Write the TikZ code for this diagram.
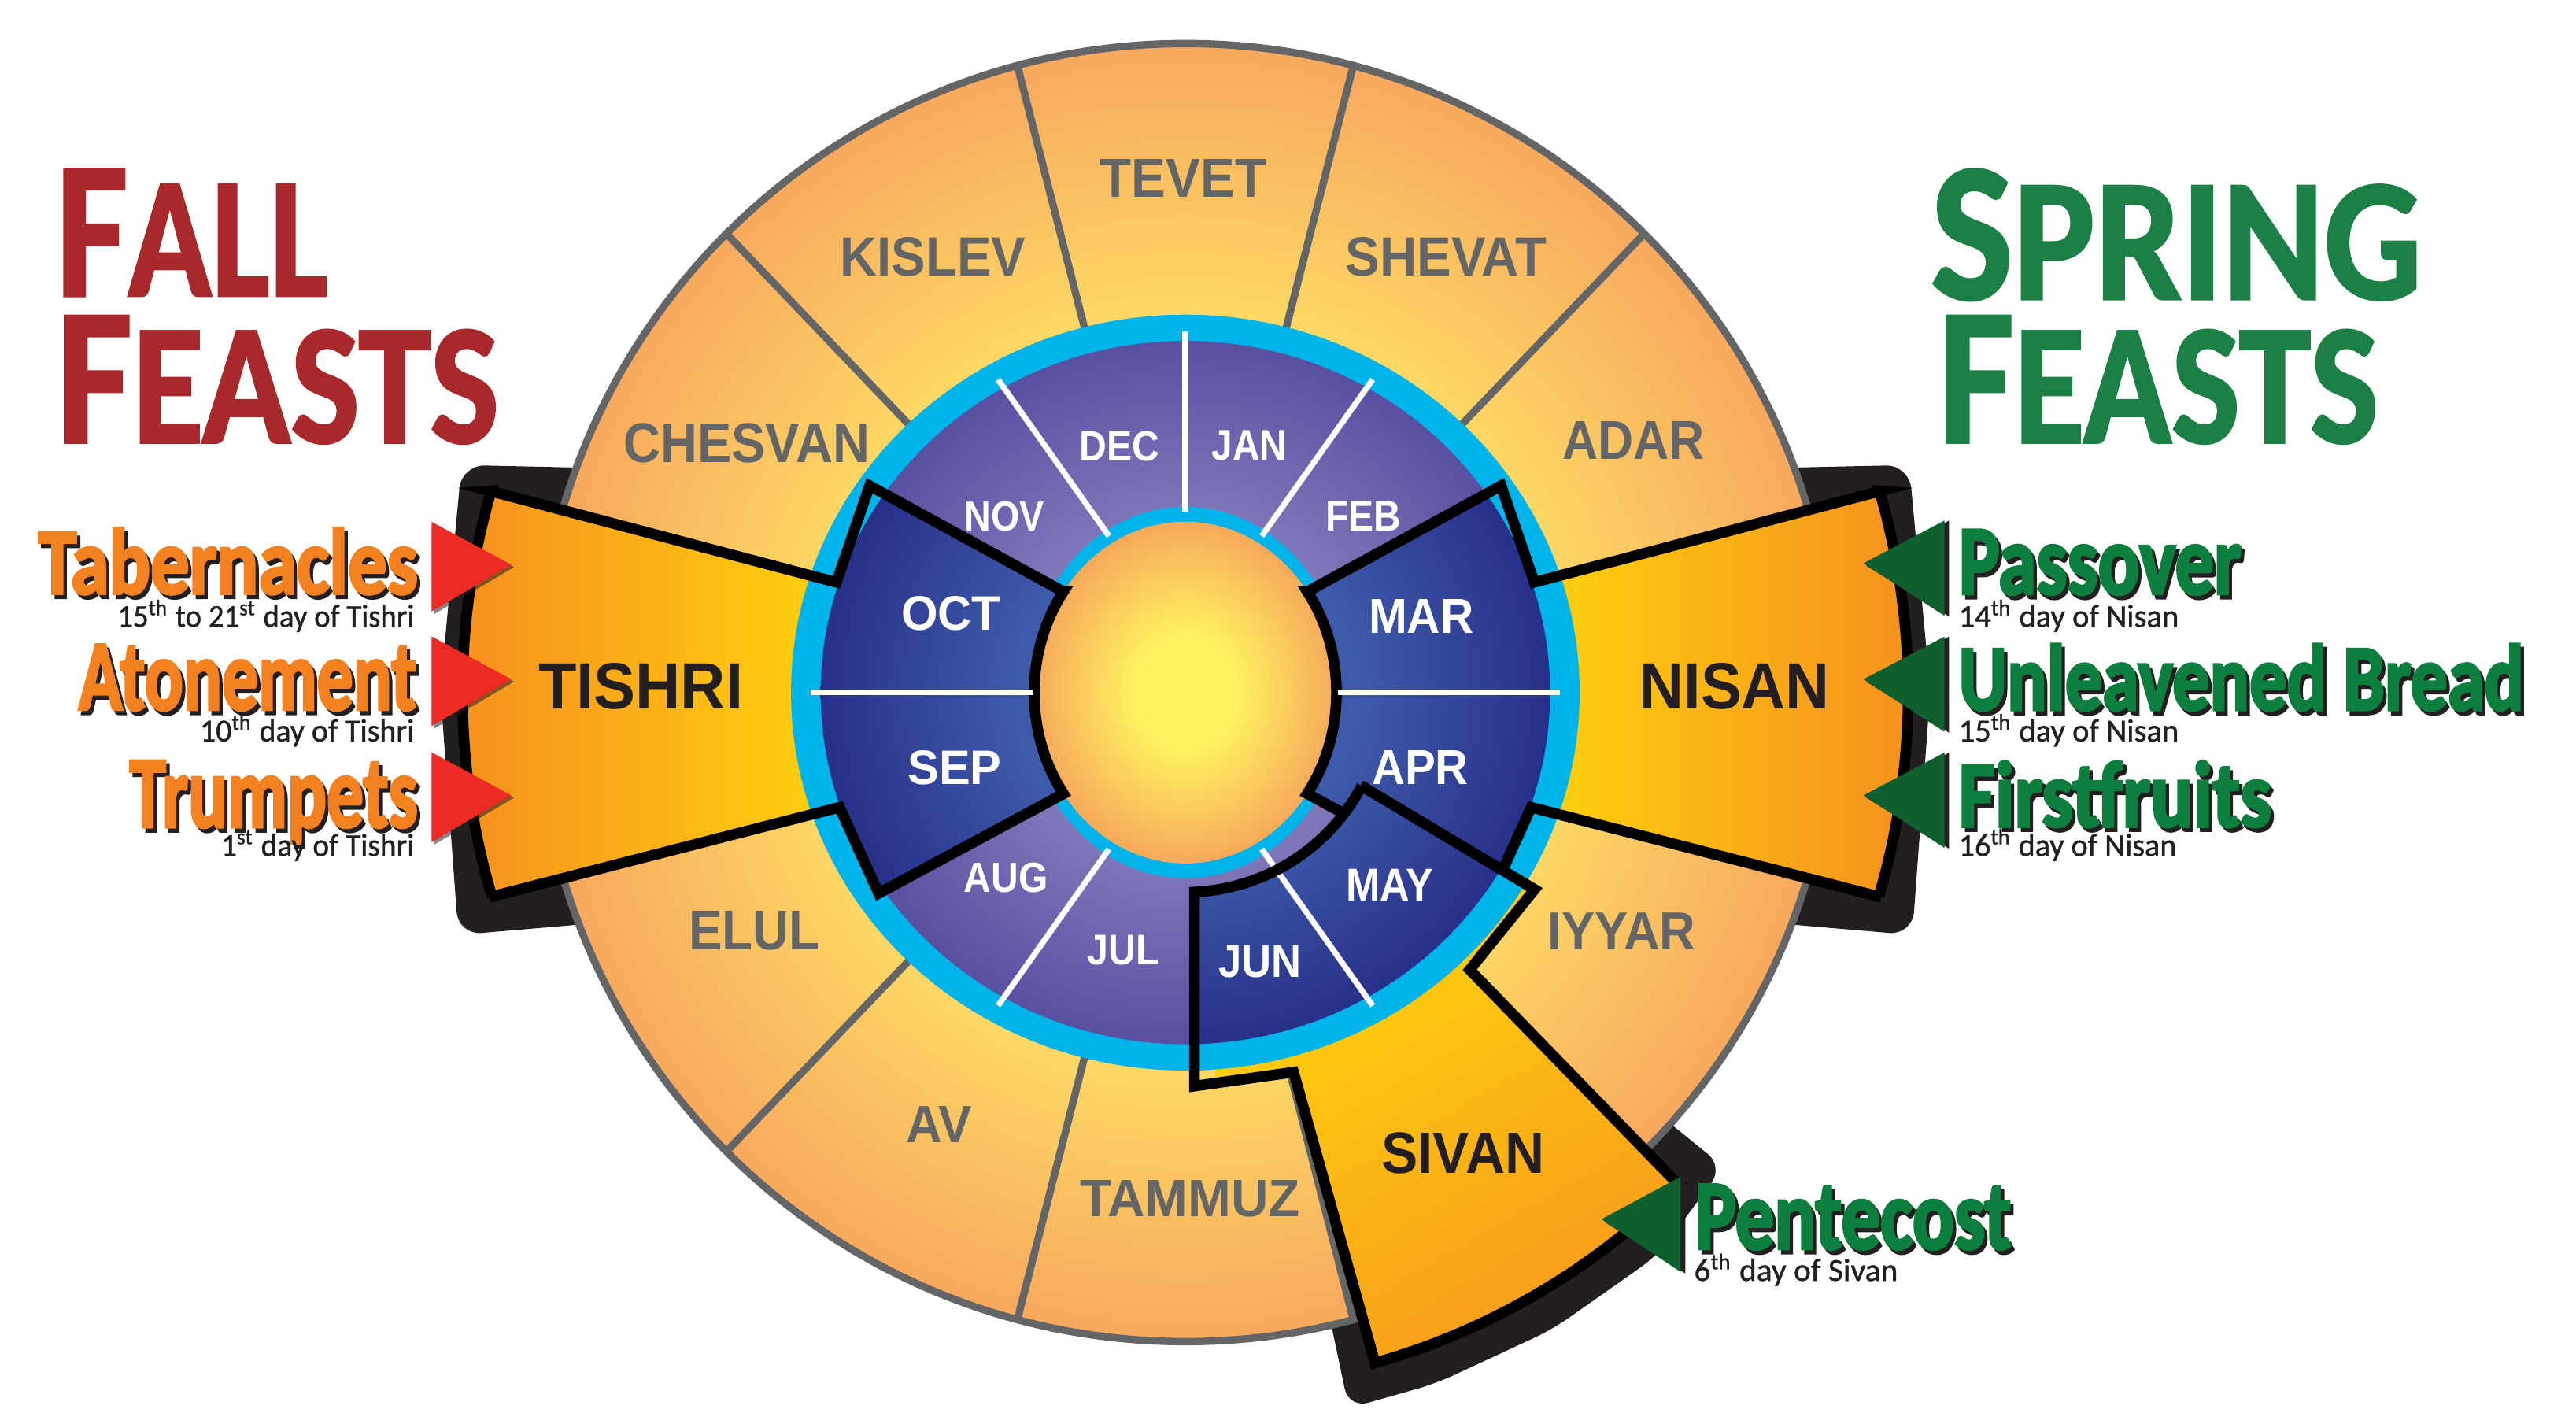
\documentclass[tikz,border=0pt]{standalone}
\usepackage{fontspec}
\setmainfont{Liberation Sans}
\newfontfamily\helvfont{Liberation Sans}
\newfontfamily\heavyfont{Carlito}[BoldFeatures={FakeBold=3}]
\newfontfamily\titlefont{Carlito}[BoldFeatures={FakeBold=1.5}]
\newfontfamily\subfont{Carlito}[FakeBold=1]
\usetikzlibrary{calc}

\definecolor{titlered}{HTML}{A8282B}
\definecolor{titlegreen}{HTML}{1C7F46}
\definecolor{featorange}{HTML}{F48120}
\definecolor{featgreen}{HTML}{0C7F3E}
\definecolor{trired}{HTML}{EE2A24}
\definecolor{trigreen}{HTML}{0F5F2F}
\definecolor{wheelgray}{HTML}{646567}
\definecolor{ringyel}{HTML}{FDD965}
\definecolor{ringorg}{HTML}{F7A85E}
\definecolor{cyanband}{HTML}{00B4EB}
\definecolor{purlight}{HTML}{A39ED0}
\definecolor{purdark}{HTML}{5A50A2}
\definecolor{navyin}{HTML}{3E5AAA}
\definecolor{navyout}{HTML}{283089}
\definecolor{sunin}{HTML}{FFF460}
\definecolor{sunout}{HTML}{F6A95B}
\definecolor{hlyel}{HTML}{FFD40D}
\definecolor{hlorg}{HTML}{F6901F}
\definecolor{inkdark}{HTML}{231F20}

\pgfdeclareradialshading{ringshade}{\pgfpointorigin}{color(0bp)=(ringyel); color(14.5bp)=(ringyel); color(25bp)=(ringorg); color(50bp)=(ringorg)}
\pgfdeclareradialshading{purshade}{\pgfpointorigin}{color(0bp)=(purlight); color(25bp)=(purdark); color(50bp)=(purdark)}
\pgfdeclareradialshading{navyshade}{\pgfpointorigin}{color(0bp)=(navyin); color(12bp)=(navyin); color(25bp)=(navyout); color(50bp)=(navyout)}
\pgfdeclareradialshading{sunshade}{\pgfpointorigin}{color(0bp)=(sunin); color(8bp)=(sunin); color(25bp)=(sunout); color(50bp)=(sunout)}

\newcommand{\fitbox}[3]{\resizebox{#1pt}{#2pt}{#3}}
\newcommand{\sups}[1]{\smash{\textsuperscript{#1}}}
% heavy feast name with a dark drop shadow, in one box
\newcommand{\shadowed}[4]{\rlap{\hspace{2pt}\raisebox{-2.5pt}{\textcolor{inkdark}{\fitbox{#1}{#2}{#4}}}}\textcolor{#3}{\fitbox{#1}{#2}{#4}}}

\tikzset{
  wheellbl/.style={inner sep=0pt, text=wheelgray, font=\helvfont\bfseries},
  hllbl/.style={inner sep=0pt, text=inkdark, font=\helvfont\bfseries},
  monthlbl/.style={inner sep=0pt, text=white, font=\helvfont\bfseries},
  feastlbl/.style={inner sep=0pt, font=\heavyfont\bfseries},
  subtext/.style={inner sep=0pt, text=inkdark, font=\subfont},
  titlefall/.style={inner sep=0pt, text=titlered, font=\titlefont\bfseries},
  titlespring/.style={inner sep=0pt, text=titlegreen, font=\titlefont\bfseries},
  hloutline/.style={draw=black, line width=6.5pt, line join=miter},
  grayline/.style={wheelgray, line width=4.5pt},
  whiteline/.style={white, line width=3.5pt},
}

\begin{document}
\begin{tikzpicture}[x=1pt,y=-1pt]
\useasboundingbox (0,0) rectangle (1568,866.6);
\coordinate (C) at (721.5,421.5);

% ---------- dark shadows behind highlighted months
\fill[inkdark, rounded corners=14pt] (372,285) -- (281,283) -- (268,420) -- (279,569) -- (372,561) -- cycle;
\fill[inkdark, rounded corners=14pt] (1071,285) -- (1162,283) -- (1175,420) -- (1164,569) -- (1071,561) -- cycle;
\fill[inkdark, rounded corners=12pt] (975,650) -- (1049,710) -- (1009,764) -- (945,809) -- (874,842) -- (821,857) -- (809,800) -- (790,690) -- cycle;

% ---------- outer disk
\shade[shading=ringshade] (C) circle (395);
\draw[wheelgray, line width=4.5pt] (C) circle (395);
\foreach \a in {15,45,...,345}
  \draw[grayline] ($(C)+(\a:222 and 214)$) -- ($(C)+(\a:395)$);

% ---------- inner rings
\fill[cyanband] (C) ellipse (240 and 230);
\shade[shading=purshade] (C) ellipse (222 and 214);
\fill[cyanband] (C) ellipse (98 and 113);
\shade[shading=sunshade] (C) ellipse (92 and 104);

% ---------- highlighted paths
\path[save path=\tishriP] (298.3,298.8) -- (509.1,354.4) -- (529.3,295.6) -- (646.7,359.8)
  -- plot[domain=216.4:143.7, samples=30] ({721.5+92*cos(\x)},{421.5+104*sin(\x)})
  -- (534.8,543.7) -- (511,491.3) -- (298.3,545.9)
  -- plot[domain=163.6:196.2, samples=30] ({721.5+440*cos(\x)},{421.5+440*sin(\x)}) -- cycle;
\path[save path=\nisanP] (1144.7,298.8) -- (933.9,354.4) -- (913.7,295.6) -- (796.3,359.8)
  -- plot[domain=-36.4:36.3, samples=30] ({721.5+92*cos(\x)},{421.5+104*sin(\x)})
  -- (908.2,543.7) -- (932,491.3) -- (1144.7,545.9)
  -- plot[domain=16.4:-16.2, samples=30] ({721.5+440*cos(\x)},{421.5+440*sin(\x)}) -- cycle;
\path[save path=\sivanP] (828.2,478) -- (934.1,541.3) -- (894.6,590.2) -- (1021,720.3)
  -- plot[domain=44.9:74.2, samples=30] ({721.5+424*cos(\x)},{421.5+424*sin(\x)})
  -- (787.4,652.5) -- (727,661) -- (727,544)
  -- plot[domain=87.4:27.9, samples=30] ({721.5+121.5*cos(\x)},{421.5+121.5*sin(\x)}) -- cycle;

% TISHRI
\begin{scope}
  \clip[use path=\tishriP];
  \shade[left color=hlorg, right color=hlyel] (280,280) rectangle (515,570);
  \fill[cyanband] (C) ellipse (240 and 230);
  \shade[shading=navyshade] (C) ellipse (222 and 214);
\end{scope}
% NISAN
\begin{scope}
  \clip[use path=\nisanP];
  \shade[left color=hlyel, right color=hlorg] (928,280) rectangle (1165,570);
  \fill[cyanband] (C) ellipse (240 and 230);
  \shade[shading=navyshade] (C) ellipse (222 and 214);
\end{scope}
\draw[hloutline, use path=\tishriP];
\draw[hloutline, use path=\nisanP];
% SIVAN
\begin{scope}
  \clip[use path=\sivanP];
  \shade[top color=hlyel, bottom color=hlorg, shading angle=30] (740,530) rectangle (1070,870);
  \fill[cyanband] (C) ellipse (240 and 230);
  \shade[shading=navyshade] (C) ellipse (222 and 214);
\end{scope}

% white month dividers
\foreach \a in {0,60,120,180,240,270,300}
  \draw[whiteline] ($(C)+(\a:93 and 110)$) -- ($(C)+(\a:228 and 220)$);

\draw[hloutline, use path=\sivanP];

% ---------- Hebrew month labels
\node[wheellbl] (tevet)   at (720.3,108.6) {\fitbox{101.2}{23}{TEVET}};
\node[wheellbl] (kislev)  at (567.9,156.5) {\fitbox{112.8}{23.5}{KISLEV}};
\node[wheellbl] (shevat)  at (880.2,156.5) {\fitbox{122.4}{23.5}{SHEVAT}};
\node[wheellbl] (chesvan) at (454.5,269.5) {\fitbox{149.9}{23.8}{CHESVAN}};
\node[wheellbl] (adar)    at (994.3,268)   {\fitbox{86.6}{23}{ADAR}};
\node[wheellbl] (elul)    at (459.2,566.2) {\fitbox{79.7}{23.5}{ELUL}};
\node[wheellbl] (iyyar)   at (987.2,566.7) {\fitbox{89.8}{22.4}{IYYAR}};
\node[wheellbl] (av)      at (571.4,684.6) {\fitbox{39.9}{22}{AV}};
\node[wheellbl] (tammuz)  at (724.4,729.5) {\fitbox{134.2}{22}{TAMMUZ}};
\node[hllbl] (tishri) at (390,417.5)   {\fitbox{124.6}{27.8}{TISHRI}};
\node[hllbl] (nisan)  at (1056,417.5)  {\fitbox{115.5}{27.8}{NISAN}};
\node[hllbl] (sivan)  at (890.5,701.6) {\fitbox{99}{24.8}{SIVAN}};

% ---------- Gregorian month labels
\node[monthlbl] (nov) at (611.4,314.4) {\fitbox{48.4}{17.9}{NOV}};
\node[monthlbl] (dec) at (681.4,271.5) {\fitbox{48.7}{18}{DEC}};
\node[monthlbl] (jan) at (760.5,271)   {\fitbox{45.8}{18}{JAN}};
\node[monthlbl] (feb) at (829.9,314.4) {\fitbox{46}{17.9}{FEB}};
\node[monthlbl] (oct) at (578.8,373.5) {\fitbox{60.5}{20.6}{OCT}};
\node[monthlbl] (mar) at (865.1,374.9) {\fitbox{63.9}{20.6}{MAR}};
\node[monthlbl] (sep) at (581.1,467)   {\fitbox{57.1}{20.6}{SEP}};
\node[monthlbl] (apr) at (864.5,467)   {\fitbox{58.8}{20.6}{APR}};
\node[monthlbl] (aug) at (612.4,534.4) {\fitbox{51.1}{17.9}{AUG}};
\node[monthlbl] (jul) at (683.7,578.4) {\fitbox{43.7}{17.9}{JUL}};
\node[monthlbl] (jun) at (767,585.3)   {\fitbox{50.4}{19.3}{JUN}};
\node[monthlbl] (may) at (846,538.5)   {\fitbox{53.1}{19.3}{MAY}};

% ---------- pointer triangles
\foreach \t in {343.7,413.4,484}{
  \fill[inkdark, opacity=0.55] (264.2,\t-24.6) -- (264.2,\t+30.1) -- (312.9,\t+1.5) -- cycle;
  \fill[trired] (262.7,\t-26.1) -- (262.7,\t+28.5) -- (311.2,\t) -- cycle;
}
\foreach \t in {342.8,413.4,484}{
  \fill[inkdark] (1186.4,\t-26) -- (1186.4,\t+32.5) -- (1136,\t+1.5) -- cycle;
  \fill[trigreen] (1183.6,\t-26) -- (1183.6,\t+32) -- (1134.3,\t) -- cycle;
}
\fill[inkdark] (1025.8,716.1) -- (1025.8,775) -- (976.5,743.5) -- cycle;
\fill[trigreen] (1023,716.1) -- (1023,774.1) -- (974.8,742) -- cycle;

% ---------- titles
\node[titlefall, anchor=base west] (fall1) at (34,180)
  {\fitbox{165.4}{77}{\fontsize{100}{100}\selectfont F\fontsize{88}{88}\selectfont ALL}};
\node[titlefall, anchor=base west] (fall2) at (34,269.3)
  {\fitbox{269.5}{77}{\fontsize{100}{100}\selectfont F\fontsize{88}{88}\selectfont EASTS}};
\node[titlespring, anchor=base west] (spring1) at (1175,182)
  {\fitbox{299}{79}{\fontsize{100}{100}\selectfont S\fontsize{88}{88}\selectfont PRING}};
\node[titlespring, anchor=base west] (spring2) at (1179.6,269.3)
  {\fitbox{268}{77}{\fontsize{100}{100}\selectfont F\fontsize{88}{88}\selectfont EASTS}};

% ---------- fall feasts
\node[feastlbl, anchor=base east] (tab) at (254.5,361.3) {\shadowed{231}{40}{featorange}{Tabernacles}};
\node[subtext, anchor=base east] (tabD) at (252.4,381.5) {\fitbox{180.7}{13.5}{15\sups{th} to 21\sups{st} day of Tishri}};
\node[feastlbl, anchor=base east] (ato) at (253.5,431.9) {\shadowed{205.4}{39.5}{featorange}{Atonement}};
\node[subtext, anchor=base east] (atoD) at (252.4,451.2) {\fitbox{130.5}{13.5}{10\sups{th} day of Tishri}};
\node[feastlbl, anchor=base east] (tru) at (254.5,503.3) {\shadowed{175.4}{40.3}{featorange}{Trumpets}};
\node[subtext, anchor=base east] (truD) at (252.4,520.9) {\fitbox{117.6}{13.5}{1\sups{st} day of Tishri}};

% ---------- spring feasts
\node[feastlbl, anchor=base west] (pas) at (1192,361.5) {\shadowed{172}{39}{featgreen}{Passover}};
\node[subtext, anchor=base west] (pasD) at (1192,381.5) {\fitbox{134}{13.5}{14\sups{th} day of Nisan}};
\node[feastlbl, anchor=base west] (unl) at (1192,432) {\shadowed{344}{40}{featgreen}{Unleavened Bread}};
\node[subtext, anchor=base west] (unlD) at (1192,451.2) {\fitbox{134}{13.5}{15\sups{th} day of Nisan}};
\node[feastlbl, anchor=base west] (fir) at (1192,503) {\shadowed{190.4}{40}{featgreen}{Firstfruits}};
\node[subtext, anchor=base west] (firD) at (1192,520.9) {\fitbox{132.6}{13.5}{16\sups{th} day of Nisan}};
\node[feastlbl, anchor=base west] (pen) at (1031.5,760) {\shadowed{192.5}{39}{featgreen}{Pentecost}};
\node[subtext, anchor=base west] (penD) at (1031,779.5) {\fitbox{124}{13.5}{6\sups{th} day of Sivan}};
\end{tikzpicture}
\end{document}
